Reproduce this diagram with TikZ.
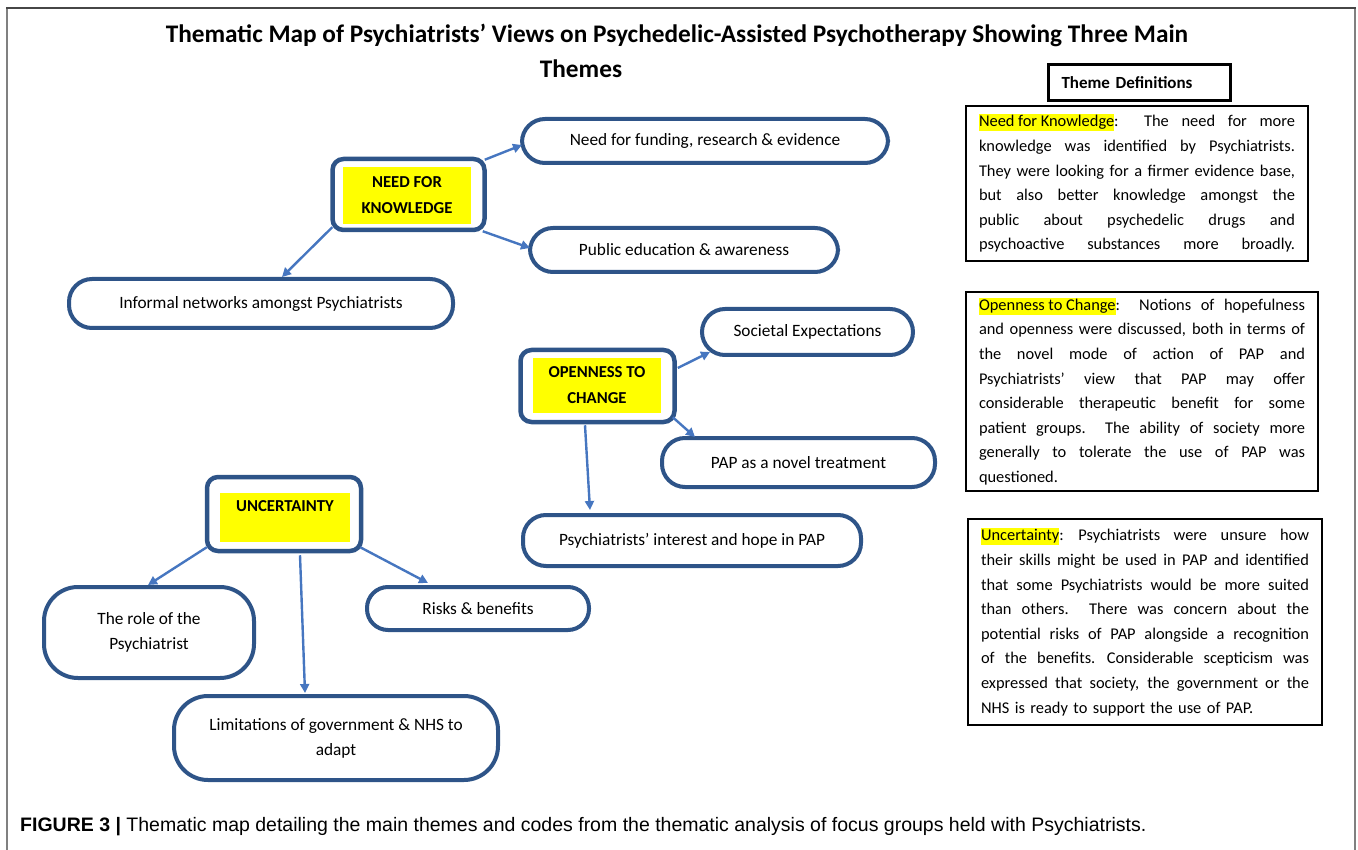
\documentclass[tikz,border=0pt]{standalone}
\usepackage{fontspec}
\setmainfont{Carlito}
\newfontfamily\capfont{Liberation Sans}
\usetikzlibrary{arrows.meta,calc}
\definecolor{bord}{RGB}{46,84,136}
\definecolor{arr}{RGB}{70,118,192}
\definecolor{hl}{RGB}{255,255,0}
\definecolor{framegray}{RGB}{128,128,128}
\definecolor{framedark}{RGB}{70,70,70}
\newcommand\hlt[1]{{\setlength\fboxsep{0pt}\colorbox{hl}{\rule[-4.5pt]{0pt}{17pt}#1}}}
\newcommand\jl[2]{\leavevmode\hbox to #1{\spaceskip=0.22em plus 1fil\relax\xspaceskip=0.3em plus 1fil\relax #2}}
\tikzset{
  themebox/.style={draw=bord, line width=4.5pt, rounded corners=11pt, fill=white, inner sep=0pt},
  yelbox/.style={fill=hl, inner sep=0pt, align=center, font=\bfseries\fontsize{16.7}{26}\selectfont},
  codebox/.style={draw=bord, line width=4pt, rounded corners=23pt, fill=white, inner sep=0pt, align=center, font=\fontsize{17.3}{25}\selectfont},
  conn/.style={draw=arr, line width=2.4pt, -{Triangle[length=9pt,width=9pt]}},
  defbox/.style={draw=black, line width=2.5pt, inner xsep=13pt, inner ysep=0pt, align=left, font=\fontsize{16.4}{24.6}\selectfont},
}
\begin{document}
\begin{tikzpicture}[x=1pt,y=-1pt]
\useasboundingbox (0,0) rectangle (1358,850);
% frame
\draw[framegray, line width=2pt] (7,850) -- (7,8);
\draw[framegray, line width=2pt] (1355,850) -- (1355,8);
\draw[framedark, line width=2pt] (6,8) -- (1356,8);
% title
\node[anchor=base, font=\bfseries\fontsize{25.3}{30}\selectfont] (title) at (677,43) {Thematic Map of Psychiatrists’ Views on Psychedelic-Assisted Psychotherapy Showing Three Main};
\node[anchor=base, font=\bfseries\fontsize{25.3}{30}\selectfont] (title2) at (581,78) {Themes};
% theme boxes
\node[themebox, minimum width=152, minimum height=71] (nfk) at (408.5,194.5) {};
\node[yelbox, minimum width=128, minimum height=57] (nfky) at (407,195.5) {NEED FOR\\KNOWLEDGE};
\node[themebox, minimum width=154, minimum height=72] (otc) at (597.5,386) {};
\node[yelbox, minimum width=128, minimum height=55] (otcy) at (597,385.5) {OPENNESS TO\\CHANGE};
\node[themebox, minimum width=154, minimum height=74] (unc) at (284,514) {};
\node[yelbox, minimum width=130, minimum height=49] (uncy) at (285,517.5) {};
\node[anchor=base, font=\bfseries\fontsize{16.7}{26}\selectfont] (unct) at (285,511) {UNCERTAINTY};
% code nodes
\node[codebox, minimum width=366, minimum height=44] (fund) at (705,141) {Need for funding, research \& evidence};
\node[codebox, minimum width=308, minimum height=44] (pub) at (684,250) {Public education \& awareness};
\node[codebox, minimum width=384, minimum height=49] (inf) at (261,303.5) {Informal networks amongst Psychiatrists};
\node[codebox, minimum width=211, minimum height=46] (soc) at (807.5,332) {Societal Expectations};
\node[codebox, minimum width=273, minimum height=49] (pap) at (798.5,462.5) {PAP as a novel treatment};
\node[codebox, minimum width=338, minimum height=51] (int) at (692,540.5) {Psychiatrists’ interest and hope in PAP};
\node[codebox, minimum width=210, minimum height=91, rounded corners=34pt] (role) at (149,632.5) {The role of the\\Psychiatrist};
\node[codebox, minimum width=222, minimum height=43, rounded corners=21pt] (risk) at (478,608.5) {Risks \& benefits};
\node[codebox, minimum width=324, minimum height=84, rounded corners=34pt] (lim) at (336,738) {Limitations of government \& NHS to\\adapt};
% connectors
\draw[conn] ([shift={(-2,3)}]nfk.north east) -- ([shift={(2,4)}]fund.west);
\draw[conn] ([shift={(-4,-1)}]nfk.south east) -- ([shift={(2,-2)}]pub.west);
\draw[conn] ([shift={(2,-5)}]nfk.south west) -- ([xshift=21pt]inf.north);
\draw[conn] ([shift={(1,-18)}]otc.east) -- ([shift={(10,-5)}]soc.south west);
\draw[conn] ([shift={(-4,-7)}]otc.south east) -- ([shift={(35,1)}]pap.north west);
\draw[conn] ([shift={(-12.5,1)}]otc.south) -- ([shift={(69,-3)}]int.north west);
\draw[conn] ([shift={(2,-6)}]unc.south west) -- ([shift={(106,0)}]role.north west);
\draw[conn] ([shift={(16,2)}]unc.south) -- ([shift={(133,-1)}]lim.north west);
\draw[conn] ([shift={(-3,-6)}]unc.south east) -- ([shift={(63,-2)}]risk.north west);
% theme definitions
\node[draw=black, line width=3pt, minimum width=182, minimum height=36, text width=156, inner xsep=13pt, align=left, font=\bfseries\fontsize{17}{20}\selectfont] (tdef) at (1139.5,82.5) {Theme Definitions};
\node[defbox, text width=316, minimum height=155] (d1) at (1137,183.5) {%
\jl{316pt}{\hlt{Need for Knowledge}:\ \ The need for more}\\
\jl{316pt}{knowledge was identified by Psychiatrists.}\\
\jl{316pt}{They were looking for a firmer evidence base,}\\
\jl{316pt}{but also better knowledge amongst the}\\
\jl{316pt}{public about psychedelic drugs and}\\
\jl{316pt}{psychoactive substances more broadly.}};
\node[defbox, text width=326, minimum height=199] (d2) at (1142,391.5) {%
\jl{326pt}{\hlt{Openness to Change}:\ \ Notions of hopefulness}\\
\jl{326pt}{and openness were discussed, both in terms of}\\
\jl{326pt}{the novel mode of action of PAP and}\\
\jl{326pt}{Psychiatrists’ view that PAP may offer}\\
\jl{326pt}{considerable therapeutic benefit for some}\\
\jl{326pt}{patient groups.\ \ The ability of society more}\\
\jl{326pt}{generally to tolerate the use of PAP was}\\
questioned.};
\node[defbox, text width=328, minimum height=206] (d3) at (1145,622) {%
\jl{328pt}{\hlt{Uncertainty}: Psychiatrists were unsure how}\\
\jl{328pt}{their skills might be used in PAP and identified}\\
\jl{328pt}{that some Psychiatrists would be more suited}\\
\jl{328pt}{than others.\ \ There was concern about the}\\
\jl{328pt}{potential risks of PAP alongside a recognition}\\
\jl{328pt}{of the benefits. Considerable scepticism was}\\
\jl{328pt}{expressed that society, the government or the}\\
NHS is ready to support the use of PAP.};
% caption
\node[anchor=base west, inner sep=0pt, font=\capfont\fontsize{19.5}{22}\selectfont] (cap) at (20,831) {\textbf{FIGURE 3 |} Thematic map detailing the main themes and codes from the thematic analysis of focus groups held with Psychiatrists.};
\end{tikzpicture}
\end{document}
